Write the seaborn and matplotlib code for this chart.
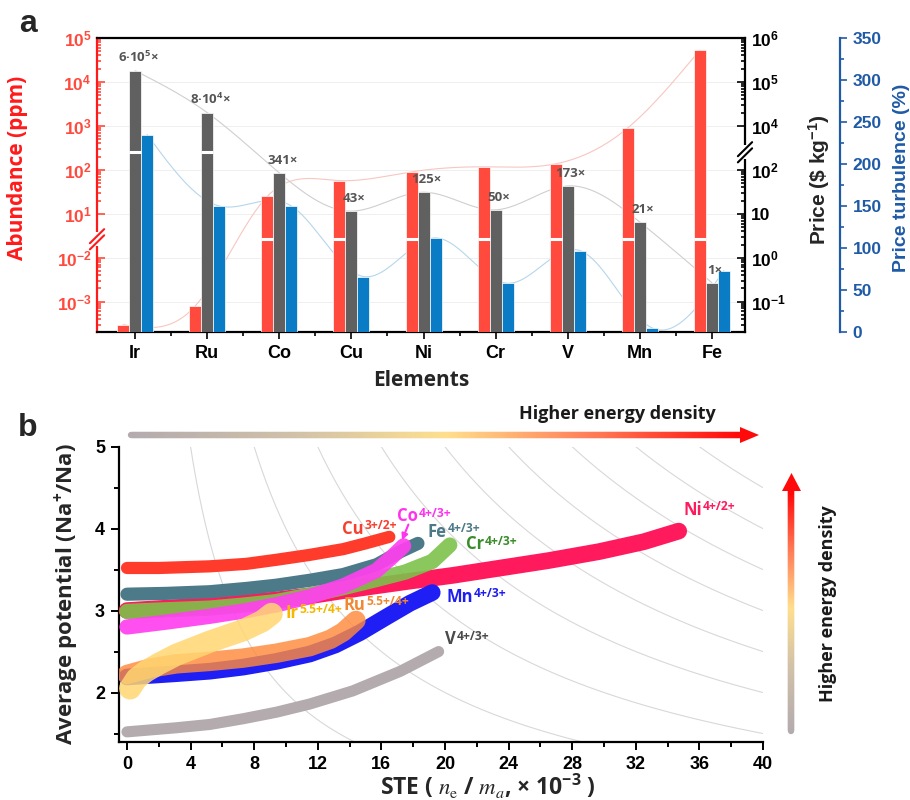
import numpy as np
import pandas as pd
import matplotlib
matplotlib.use("Agg")
import matplotlib.pyplot as plt
import seaborn as sns
from matplotlib.collections import LineCollection
from matplotlib.colors import LinearSegmentedColormap
from matplotlib.patches import Polygon
import matplotlib.transforms as mtransforms

sns.set_theme(style="ticks")
plt.rcParams["font.family"] = ["Open Sans", "DejaVu Sans"]
plt.rcParams["mathtext.fontset"] = "stix"
plt.rcParams["mathtext.default"] = "regular"
plt.rcParams["axes.unicode_minus"] = True

# ---------------- data: panel a ----------------
elements = ["Ir", "Ru", "Co", "Cu", "Ni", "Cr", "V", "Mn", "Fe"]
abundance_ppm = [3e-4, 8e-4, 25, 57, 90, 117, 137, 900, 5.3e4]
price_usd_kg = [1.8e5, 2.0e4, 85, 11.5, 31, 12.3, 43, 6.5, 0.27]
price_turbulence = [235, 150, 150, 66, 112, 58, 97, 5, 73]
ratio_labels = ["6·10$^{5}$×", "8·10$^{4}$×", "341×", "43×", "125×",
                "50×", "173×", "21×", "1×"]
abund_ticks = [1e5, 1e4, 1e3, 1e2, 1e1, 1e-2, 1e-3]
abund_tick_labels = ["10$^{5}$", "10$^{4}$", "10$^{3}$", "10$^{2}$", "10$^{1}$",
                     "10$^{-2}$", "10$^{-3}$"]
price_ticks = [1e6, 1e5, 1e4, 1e2, 1e1, 1e0, 1e-1]
price_tick_labels = ["10$^{6}$", "10$^{5}$", "10$^{4}$", "10$^{2}$", "10",
                     "10$^{0}$", "10$^{-1}$"]
turb_ticks = [0, 50, 100, 150, 200, 250, 300, 350]

# ---------------- data: panel b ----------------
cu_x = [0, 2, 5.2, 7.5, 9.4, 11.5, 13.6, 15, 16.5]
cu_y = [3.52, 3.52, 3.54, 3.57, 3.62, 3.68, 3.75, 3.82, 3.90]
fe_x = [0, 2.5, 5.2, 7.5, 9.4, 11.5, 13.6, 15.7, 17.2, 18.3]
fe_y = [3.20, 3.21, 3.23, 3.27, 3.31, 3.37, 3.44, 3.56, 3.72, 3.82]
co_x = [0, 2.5, 5.2, 7.5, 9.4, 11.5, 13.6, 15.7, 16.7, 17.4]
co_y = [2.80, 2.86, 2.93, 3.00, 3.07, 3.17, 3.30, 3.49, 3.66, 3.79]
cr_x = [0, 2.5, 5.2, 7.5, 9.4, 11.5, 13.6, 15.7, 17.5, 19.2, 20.3]
cr_y = [2.99, 3.01, 3.03, 3.07, 3.11, 3.19, 3.28, 3.38, 3.47, 3.60, 3.80]
ni_x = [0, 5, 9.4, 11.5, 14.5, 17.8, 20.5, 23.5, 26.5, 29.7, 32.5, 34.7]
ni_y = [3.00, 3.06, 3.13, 3.18, 3.27, 3.36, 3.43, 3.52, 3.61, 3.72, 3.84, 3.97]
mn_x = [0, 3.1, 5.2, 7.3, 9.4, 11.5, 13.1, 14.65, 16.3, 17.8, 19.2]
mn_y = [2.19, 2.23, 2.26, 2.31, 2.38, 2.47, 2.58, 2.73, 2.92, 3.09, 3.22]
ru_x = [0, 1.5, 3.1, 5.2, 7.3, 9.4, 11.5, 12.8, 13.6, 14.4]
ru_y = [2.22, 2.30, 2.35, 2.38, 2.42, 2.48, 2.56, 2.65, 2.74, 2.88]
ir_x = [0.2, 0.6, 1.2, 2.0, 3.1, 5.2, 7.3, 8.5, 9.1]
ir_y = [2.05, 2.17, 2.26, 2.35, 2.46, 2.62, 2.76, 2.87, 2.96]
v_x = [0, 3.1, 5.2, 7.3, 9.4, 11.5, 14.2, 17.2, 19.6]
v_y = [1.52, 1.57, 1.61, 1.68, 1.76, 1.86, 2.02, 2.26, 2.50]
energy_levels = [20, 40, 60, 80, 100, 120, 140, 160, 180]

RED = "#FF4A3D"
GRAY = "#606060"
BLUE = "#0A7CC6"
TBLUE = "#1F5AA6"

fig = plt.figure(figsize=(9.1, 8), dpi=100)

def fx(px):
    return px / 910.0

def fy(py):
    return 1 - py / 800.0

# ================= panel a =================
ax = fig.add_axes([fx(97), fy(332), fx(745 - 97), (332 - 38) / 800.0])
U_TOP, U_BOT = 5.0, -1.69
S_TOP = U_TOP - U_BOT
RED_BREAK_U = 0.42
PRICE_BREAK_U = 2.4


def abund_u(v):
    L = np.log10(v)
    if L >= 1:
        return L
    if L <= -2:
        return L + 2
    return (L + 2) / 3.0


def price_u(v):
    L = np.log10(v)
    if L >= 4:
        return L - 1
    if L <= 2:
        return L
    return 2 + (L - 2) / 2.0


def S(u):
    return u - U_BOT


rows = []
for e, a, p, t in zip(elements, abundance_ppm, price_usd_kg, price_turbulence):
    rows.append((e, "abundance", S(abund_u(a))))
    rows.append((e, "price", S(price_u(p))))
    rows.append((e, "turbulence", t / 350.0 * S_TOP))
df = pd.DataFrame(rows, columns=["element", "series", "s"])

sns.barplot(data=df, x="element", y="s", hue="series",
            hue_order=["abundance", "price", "turbulence"],
            palette=[RED, GRAY, BLUE], width=0.5, saturation=1,
            edgecolor="white", linewidth=0.5, legend=False, ax=ax, zorder=3)
ax.set_xlim(-0.53, 8.46)
ax.set_ylim(0, S_TOP)

# white gaps for broken bars
bw = 0.5 / 3
for i, (a, p) in enumerate(zip(abundance_ppm, price_usd_kg)):
    if abund_u(a) > RED_BREAK_U:
        ax.plot([i - 1.5 * bw, i - 0.5 * bw], [S(RED_BREAK_U)] * 2, color="white",
                lw=2.2, zorder=4, solid_capstyle="butt")
    if price_u(p) > PRICE_BREAK_U:
        ax.plot([i - 0.5 * bw, i + 0.5 * bw], [S(PRICE_BREAK_U)] * 2, color="white",
                lw=2.2, zorder=4, solid_capstyle="butt")


def natural_spline(xp, yp, num=400):
    xp = np.asarray(xp, float)
    yp = np.asarray(yp, float)
    n = len(xp)
    h = np.diff(xp)
    A = np.zeros((n, n))
    r = np.zeros(n)
    A[0, 0] = A[-1, -1] = 1
    for i in range(1, n - 1):
        A[i, i - 1] = h[i - 1]
        A[i, i] = 2 * (h[i - 1] + h[i])
        A[i, i + 1] = h[i]
        r[i] = 6 * ((yp[i + 1] - yp[i]) / h[i] - (yp[i] - yp[i - 1]) / h[i - 1])
    M = np.linalg.solve(A, r)
    xs = np.linspace(xp[0], xp[-1], num)
    idx = np.clip(np.searchsorted(xp, xs) - 1, 0, n - 2)
    x0, x1 = xp[idx], xp[idx + 1]
    hh = x1 - x0
    aa = (x1 - xs) / hh
    bb = (xs - x0) / hh
    ys = aa * yp[idx] + bb * yp[idx + 1] + ((aa ** 3 - aa) * M[idx] + (bb ** 3 - bb) * M[idx + 1]) * hh ** 2 / 6
    return xs, ys


pos = np.arange(len(elements))
for series, off, col in [("abundance", -bw, "#F7C6C2"), ("price", 0, "#CFCFCF"),
                         ("turbulence", bw, "#B5D6EC")]:
    vals = df[df.series == series]["s"].values
    xs, ys = natural_spline(pos + off, vals)
    ax.plot(xs, ys, color=col, lw=0.8, zorder=1)

# faint grid
for v in abund_ticks:
    ax.axhline(S(abund_u(v)), color="#EDEDED", lw=0.6, zorder=0)

# labels above price bars
for i, (p, lab) in enumerate(zip(price_usd_kg, ratio_labels)):
    ax.text(i + 0.04, S(price_u(p)) + 0.14, lab, ha="center", va="bottom",
            fontsize=9.5, fontweight="bold", color="#555555", zorder=5)

# left axis
tickfont = dict(fontsize=12.5, fontweight="bold", family=["Liberation Sans", "DejaVu Sans"])
ax.set_yticks([S(abund_u(v)) for v in abund_ticks], abund_tick_labels, color=RED, **tickfont)
minor_a = []
for d in [-4, -3, 1, 2, 3, 4]:
    for m in range(2, 10):
        L = d + np.log10(m)
        if (d < 0 and L < -2) or (d > 0):
            u = abund_u(10 ** L)
            if U_BOT <= u <= U_TOP:
                minor_a.append(S(u))
ax.set_yticks(minor_a, minor=True)
ax.tick_params(axis="y", which="both", direction="in", colors=RED, width=1.2)
ax.tick_params(axis="y", which="major", length=6, pad=4)
ax.tick_params(axis="y", which="minor", length=3)
ax.set_xticks(pos, elements, fontsize=13, fontweight="bold",
              family=["Liberation Sans", "DejaVu Sans"], color="black")
ax.set_xticks(np.arange(0.5, 8, 1), minor=True)
ax.tick_params(axis="x", which="both", direction="out", width=1.2, colors="black", bottom=True)
ax.tick_params(axis="x", which="major", length=5, pad=4)
ax.tick_params(axis="x", which="minor", length=3)
ax.set_xlabel("Elements", fontsize=15, fontweight="bold", labelpad=6)
ax.set_ylabel("Abundance (ppm)", fontsize=15, fontweight="bold", color="#FF1A1A")
ax.yaxis.set_label_coords((28 - 97) / 648.0, (332 - 168) / 294.0)
for sp in ["top", "bottom"]:
    ax.spines[sp].set_color("black")
    ax.spines[sp].set_linewidth(1.6)
ax.spines["left"].set_color("#FF1A1A")
ax.spines["left"].set_linewidth(1.6)
ax.spines["right"].set_visible(False)

# price axis
axp = ax.twinx()
axp.set_ylim(0, S_TOP)
axp.set_yticks([S(price_u(v)) for v in price_ticks], price_tick_labels, color="black", **tickfont)
minor_p = []
for d in [-2, -1, 0, 1, 4, 5]:
    for m in range(2, 10):
        L = d + np.log10(m)
        u = price_u(10 ** L)
        if U_BOT <= u <= U_TOP:
            minor_p.append(S(u))
axp.set_yticks(minor_p, minor=True)
axp.tick_params(axis="y", which="both", direction="in", colors="black", width=1.2)
axp.tick_params(axis="y", which="major", length=6, pad=4)
axp.tick_params(axis="y", which="minor", length=3)
axp.set_ylabel("Price (\\$ kg$^{-1}$)", fontsize=15, fontweight="bold",
               family=["Liberation Sans", "DejaVu Sans"], rotation=90)
axp.yaxis.set_label_coords((806 - 97) / 648.0, (332 - 180) / 294.0)
for sp in ["left", "top", "bottom"]:
    axp.spines[sp].set_visible(False)
axp.spines["right"].set_linewidth(1.6)
axp.spines["right"].set_color("black")

# turbulence axis
axt = ax.twinx()
axt.set_ylim(0, 350)
axt.spines["right"].set_position(("axes", (840 - 97) / 648.0))
for sp in ["left", "top", "bottom"]:
    axt.spines[sp].set_visible(False)
axt.spines["right"].set_color(TBLUE)
axt.spines["right"].set_linewidth(1.6)
axt.set_yticks(turb_ticks, [str(t) for t in turb_ticks], color=TBLUE, **tickfont)
axt.set_yticks(np.arange(25, 350, 50), minor=True)
axt.tick_params(axis="y", which="both", direction="out", colors=TBLUE, width=1.2)
axt.tick_params(axis="y", which="major", length=5, pad=4)
axt.tick_params(axis="y", which="minor", length=3)
axt.set_ylabel("Price turbulence (%)", fontsize=14, fontweight="bold", color=TBLUE,
               family=["Liberation Sans", "DejaVu Sans"], rotation=90)
axt.yaxis.set_label_coords((893 - 97) / 648.0, (332 - 178) / 294.0)

# axis break marks
def break_mark(axis, xa, u, color):
    tr = mtransforms.blended_transform_factory(axis.transAxes, axis.transData)
    s = S(u)
    axis.plot([xa, xa], [s - 0.16, s + 0.16], color="white", lw=3, transform=tr,
              clip_on=False, zorder=10, solid_capstyle="butt")
    for dy in (-0.07, 0.07):
        axis.plot([xa - 0.011, xa + 0.011], [s + dy - 0.16, s + dy + 0.16], color=color,
                  lw=1.5, transform=tr, clip_on=False, zorder=11)

break_mark(ax, 0, RED_BREAK_U, "#FF1A1A")
break_mark(axp, 1, PRICE_BREAK_U, "black")

# ================= panel b =================
axb = fig.add_axes([fx(119), fy(741.7), fx(763 - 119), (741.7 - 446.7) / 800.0])
axb.set_xlim(-0.5, 40)
axb.set_ylim(1.4, 5.0)
for c in energy_levels:
    xs = np.linspace(c / 5.0, min(40, c / 1.4), 200)
    axb.plot(xs, c / xs, color="#D8D8D8", lw=0.8, zorder=1)

couples = [
    (ni_x, ni_y, "#FF1A5E", 12.0, 1.0),
    (cr_x, cr_y, "#7DC24B", 11.0, 0.9),
    (fe_x, fe_y, "#4D7A89", 9.5, 1.0),
    (co_x, co_y, "#FF40F0", 11.0, 0.92),
    (cu_x, cu_y, "#FF3B2B", 8.8, 1.0),
    (mn_x, mn_y, "#1E1EF5", 12.0, 1.0),
    (ru_x, ru_y, "#FF8A3C", 14.0, 0.82),
    (ir_x, ir_y, "#FFD670", 16.0, 0.85),
    (v_x, v_y, "#B3ABAD", 8.0, 1.0),
]
for k, (xv, yv, col, lw, al) in enumerate(couples):
    sns.lineplot(x=xv, y=yv, ax=axb, color=col, lw=lw, alpha=al, sort=False,
                 solid_capstyle="round", solid_joinstyle="round", zorder=3 + k * 0.01)


def sup_label(axis, x, y, base, sup, color, size=12):
    t = axis.text(x, y, base, color=color, fontsize=size, fontweight="bold",
                  ha="left", va="center", zorder=6)
    axis.annotate(sup, xy=(1.0, 1.0), xycoords=t, xytext=(0.6, 0.5),
                  textcoords="offset points", fontsize=size * 0.72, fontweight="bold",
                  color=color, ha="left", va="top", zorder=6)
    return t


sup_label(axb, 13.5, 4.0, "Cu", "3+/2+", "#F5402F")
sup_label(axb, 17.0, 4.15, "Co", "4+/3+", "#FF33EE")
sup_label(axb, 18.9, 3.96, "Fe", "4+/3+", "#4E7A88")
sup_label(axb, 21.3, 3.81, "Cr", "4+/3+", "#3A8C2A")
sup_label(axb, 35.0, 4.23, "Ni", "4+/2+", "#FF1A5E")
sup_label(axb, 20.1, 3.17, "Mn", "4+/3+", "#1E1EF0")
sup_label(axb, 20.0, 2.65, "V", "4+/3+", "#4A4A4A")
sup_label(axb, 9.95, 2.97, "Ir", "5.5+/4+", "#F5B700")
sup_label(axb, 13.6, 3.07, "Ru", "5.5+/4+", "#F08833")
axb.annotate("", xy=(17.3, 3.86), xytext=(17.7, 4.05),
             arrowprops=dict(arrowstyle="-|>", color="#FF33EE", lw=1.5,
                             mutation_scale=9, shrinkA=0, shrinkB=0), zorder=6)

bfont = dict(fontsize=13, fontweight="bold", family=["Liberation Sans", "DejaVu Sans"])
axb.set_xticks(np.arange(0, 41, 4), [str(v) for v in range(0, 41, 4)], **bfont)
axb.set_xticks(np.arange(2, 40, 4), minor=True)
axb.set_yticks([2, 3, 4, 5], ["2", "3", "4", "5"], **bfont)
axb.set_yticks([1.5, 2.5, 3.5, 4.5], minor=True)
axb.tick_params(which="both", direction="out", width=1.4, colors="black", bottom=True, left=True)
axb.tick_params(which="major", length=6, pad=4)
axb.tick_params(which="minor", length=3.5)
for sp in ["top", "right"]:
    axb.spines[sp].set_visible(False)
for sp in ["left", "bottom"]:
    axb.spines[sp].set_linewidth(1.6)
    axb.spines[sp].set_color("black")
axb.set_ylabel("Average potential (Na$^{+}$/Na)", fontsize=16, fontweight="bold")
axb.yaxis.set_label_coords((81 - 119) / 644.0, 0.5)
axb.set_xlabel("STE ( $\\mathit{n}_{\\mathrm{e}}$ / $\\mathit{m}_{\\mathit{a}}$, × 10$^{-3}$ )",
               fontsize=16.5, fontweight="bold")
axb.xaxis.set_label_coords((488 - 119) / 644.0, -(772 - 741.7) / 295.0)

# ================= overlay (arrows, panel letters) =================
ov = fig.add_axes([0, 0, 1, 1], zorder=5)
ov.set_xlim(0, 910)
ov.set_ylim(800, 0)
ov.axis("off")
ov.patch.set_alpha(0)
cmap = LinearSegmentedColormap.from_list(
    "ed", [(0, "#B3ABAE"), (0.28, "#D2C2A8"), (0.52, "#FFDF8E"),
           (0.78, "#FF7452"), (1.0, "#FF0A0A")])
n = 300
xs = np.linspace(131, 742, n + 1)
segs = [[(xs[i], 435), (xs[i + 1], 435)] for i in range(n)]
ov.add_collection(LineCollection(segs, colors=cmap(np.linspace(0, 1, n)), linewidths=4.6,
                                 capstyle="round"))
ov.add_patch(Polygon([(740, 427), (759, 435), (740, 443)], closed=True, color="#FF0A0A", lw=0))
ys = np.linspace(731, 490, n + 1)
segs = [[(791, ys[i]), (791, ys[i + 1])] for i in range(n)]
ov.add_collection(LineCollection(segs, colors=cmap(np.linspace(0, 1, n)), linewidths=4.6,
                                 capstyle="round"))
ov.add_patch(Polygon([(782, 491), (791.5, 473), (801, 491)], closed=True, color="#FF0A0A", lw=0))
ov.text(617, 414, "Higher energy density", fontsize=13, fontweight="bold",
        ha="center", va="center", color="#1A1A1A")
ov.text(828, 604, "Higher energy density", fontsize=13, fontweight="bold",
        ha="center", va="center", rotation=90, color="#1A1A1A")
ov.text(28, 24, "a", fontsize=23, fontweight="bold", ha="center", va="center",
        family=["Liberation Sans", "DejaVu Sans"])
ov.text(28, 428, "b", fontsize=23, fontweight="bold", ha="center", va="center",
        family=["Liberation Sans", "DejaVu Sans"])

fig.savefig("out.png", dpi=100)
